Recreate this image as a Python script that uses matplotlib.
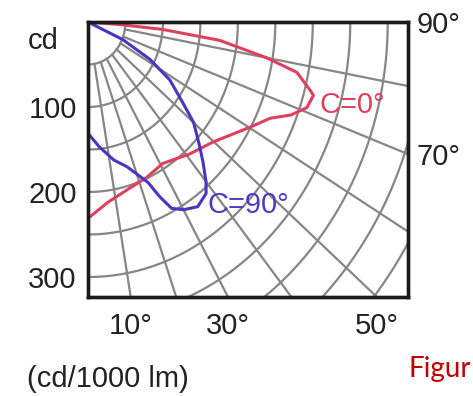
import numpy as np
import matplotlib.pyplot as plt

# light distribution: angle from nadir (deg) and cd/1000 lm
c0_angle = [88, 86, 85, 83, 80, 78, 75, 74, 71, 68, 65, 61, 57, 50, 41, 31, 23, 15, 7, 0]
c0_cd = [0, 43, 100, 177, 242, 285, 306, 313, 309, 292, 268, 252, 238, 219, 206, 194, 199, 204, 214, 231]
c90_angle = [88, 66, 62, 58, 53, 50, 46, 43, 40, 38, 34, 30, 27, 25, 23, 17, 12, 6, 0]
c90_cd = [0, 51, 94, 129, 159, 184, 206, 225, 245, 256, 262, 255, 246, 227, 205, 178, 166, 148, 131]

# grid of the diagram
grid_cd = np.arange(50, 600, 50)
grid_angle = np.arange(10, 90, 10)
cd_ticks = [100, 200, 300]
bottom_ticks = [10, 30, 50]
right_ticks = [70, 90]

x_max, y_max = 427, 323.5  # cd range shown in the window


def to_xy(angle, cd):
    a = np.radians(np.asarray(angle, dtype=float))
    cd = np.asarray(cd, dtype=float)
    return cd * np.sin(a), -cd * np.cos(a)


plt.rcParams['font.family'] = ['Liberation Sans', 'DejaVu Sans']

fig = plt.figure(figsize=(4.73, 3.96), dpi=100)
ax = fig.add_axes([0.186, 0.25, 0.6765, 0.6944])
ax.set_xlim(0, x_max)
ax.set_ylim(-y_max, 0)

grey = '#868686'
sweep = np.linspace(-5, 95, 200)
for c in grid_cd:
    ax.plot(*to_xy(sweep, np.full_like(sweep, c)), color=grey, lw=1.6)
reach = np.linspace(50, 700, 50)
for g in grid_angle:
    ax.plot(*to_xy(np.full_like(reach, g), reach), color=grey, lw=1.6)

ax.plot(*to_xy(c0_angle, c0_cd), color='#e0405e', lw=2.2)
ax.plot(*to_xy(c90_angle, c90_cd), color='#4a34c0', lw=2.2)

ax.text(0.725, 0.70, 'C=0°', color='#e0405e', fontsize=21, va='center',
        transform=ax.transAxes)
ax.text(0.372, 0.335, 'C=90°', color='#5038c8', fontsize=21, va='center',
        transform=ax.transAxes)

ax.set_yticks([-c for c in cd_ticks])
ax.set_yticklabels([str(c) for c in cd_ticks])
ax.set_xticks([y_max * np.tan(np.radians(g)) for g in bottom_ticks])
ax.set_xticklabels([f'{g}°' for g in bottom_ticks])
ax.tick_params(axis='y', length=0, pad=8, labelsize=21, colors='#222222')
ax.tick_params(axis='x', length=0, pad=11, labelsize=21, colors='#222222')

ax2 = ax.twinx()
ax2.set_ylim(-y_max, 0)
ax2.set_yticks([-x_max / np.tan(np.radians(g)) for g in right_ticks])
ax2.set_yticklabels([f'{g}°' for g in right_ticks])
ax2.tick_params(axis='y', length=0, pad=6, labelsize=21, colors='#222222')

for a in (ax, ax2):
    for s in a.spines.values():
        s.set_linewidth(2.4)
        s.set_color('#1a1a1a')

fig.text(0.059, 0.896, 'cd', fontsize=21, va='center', color='#222222')
fig.text(0.057, 0.043, '(cd/1000 lm)', fontsize=21, va='center', color='#222222')
fig.text(0.8626, 0.048, 'Figur', fontsize=20, color='#c00000', family='Lato')

fig.savefig('out.png', dpi=100)
